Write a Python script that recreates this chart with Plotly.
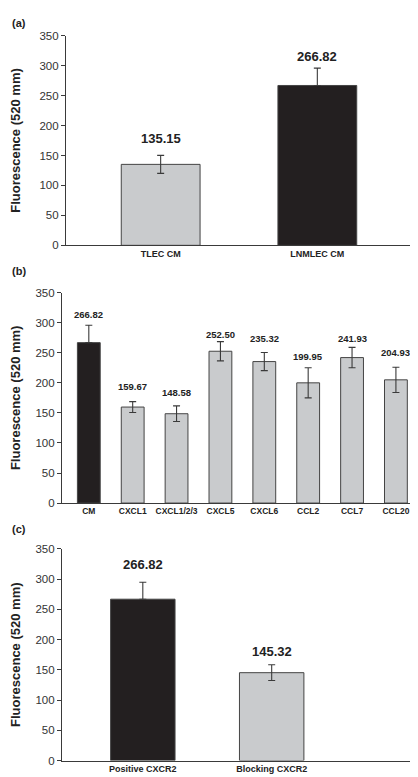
import plotly.graph_objects as go

# ---- data ----
a_cats = ["TLEC CM", "LNMLEC CM"]
a_vals = [135.15, 266.82]
a_errs = [15, 29]
a_label_y = [179, 316]

b_cats = ["CM", "CXCL1", "CXCL1/2/3", "CXCL5", "CXCL6", "CCL2", "CCL7", "CCL20"]
b_vals = [266.82, 159.67, 148.58, 252.50, 235.32, 199.95, 241.93, 204.93]
b_errs = [29, 9, 13, 16, 15, 25, 17, 21]
b_label_y = [313, 194, 184, 280, 273, 244, 273, 250]

c_cats = ["Positive CXCR2", "Blocking CXCR2"]
c_vals = [266.82, 145.32]
c_errs = [28, 13]
c_label_y = [325, 180]

y_ticks = [0, 50, 100, 150, 200, 250, 300, 350]

DARK = "#231f20"
LIGHT = "#c9cbcd"
LINE = "#3a3a3a"
FONT = "Liberation Sans, Arial, sans-serif"

panels = [
    dict(tag="(a)", cats=a_cats, vals=a_vals, errs=a_errs, lab=a_label_y,
         dark=[1], xdom=[0.1364, 0.9761], ydom=[0.6976, 0.9717],
         xr=[-0.605, 1.63], w=0.503, lsize=13, lbl_top=0.9985, tsize=9),
    dict(tag="(b)", cats=b_cats, vals=b_vals, errs=b_errs, lab=b_label_y,
         dark=[0], xdom=[0.1268, 0.9952], ydom=[0.3607, 0.6358],
         xr=[-0.614, 7.64], w=0.52, lsize=9.5, lbl_top=0.6745, tsize=8.5),
    dict(tag="(c)", cats=c_cats, vals=c_vals, errs=c_errs, lab=c_label_y,
         dark=[0], xdom=[0.1268, 0.9761], ydom=[0.0241, 0.3008],
         xr=[-0.628, 2.12], w=0.5, lsize=13, lbl_top=0.3375, tsize=9),
]

fig = go.Figure()
annotations = []
shapes = []

for i, p in enumerate(panels):
    n = "" if i == 0 else str(i + 1)
    xref, yref = "x" + n, "y" + n
    pos = list(range(len(p["cats"])))
    for is_dark in (False, True):
        idx = [k for k in pos if (k in p["dark"]) == is_dark]
        if not idx:
            continue
        fig.add_trace(go.Bar(
            x=idx, y=[p["vals"][k] for k in idx], width=p["w"],
            xaxis=xref, yaxis=yref,
            marker=dict(color=DARK if is_dark else LIGHT,
                        line=dict(color="#444444", width=1)),
            error_y=dict(type="data", array=[p["errs"][k] for k in idx],
                         arrayminus=[0 if is_dark else p["errs"][k] for k in idx],
                         symmetric=False, visible=True,
                         color=LINE, thickness=1.1, width=3.5),
            showlegend=False, hoverinfo="x+y",
        ))
    for k in pos:
        annotations.append(dict(
            x=k, y=p["lab"][k], xref=xref, yref=yref, text=f"{p['vals'][k]:.2f}",
            showarrow=False, yanchor="middle",
            font=dict(family=FONT, size=p["lsize"], color="#222222", weight="bold"),
        ))
    annotations.append(dict(
        x=0.002, y=p["lbl_top"], xref="paper", yref="paper", text=p["tag"],
        showarrow=False, xanchor="left", yanchor="top",
        font=dict(family=FONT, size=11, color="#222222", weight="bold"),
    ))
    shapes.append(dict(type="line", xref=xref + " domain", yref=yref,
                       x0=1, x1=1, y0=0, y1=7, line=dict(color=LINE, width=1)))

    xa = dict(domain=p["xdom"], range=p["xr"], anchor=yref,
              tickvals=pos, ticktext=p["cats"], ticks="", showgrid=False,
              zeroline=False, showline=True, linecolor=LINE, linewidth=1,
              tickfont=dict(family=FONT, size=p["tsize"], color="#222222",
                            weight="bold"), fixedrange=True)
    ya = dict(domain=p["ydom"], range=[0, 350], anchor=xref,
              tickvals=y_ticks, ticks="outside", ticklen=4, tickcolor=LINE,
              showgrid=False, zeroline=False, showline=True, linecolor=LINE,
              linewidth=1, tickfont=dict(family=FONT, size=11.5, color="#333333"),
              title=dict(text="Fluorescence (520 mm)", standoff=18,
                         font=dict(family=FONT, size=13, color="#222222",
                                   weight="bold")), fixedrange=True)
    fig.layout["xaxis" + n] = xa
    fig.layout["yaxis" + n] = ya

fig.update_layout(
    width=418, height=777,
    margin=dict(l=0, r=0, t=0, b=0),
    paper_bgcolor="white", plot_bgcolor="white",
    annotations=annotations, shapes=shapes,
    font=dict(family=FONT),
    barmode="overlay",
)

fig.write_html("out.html")
